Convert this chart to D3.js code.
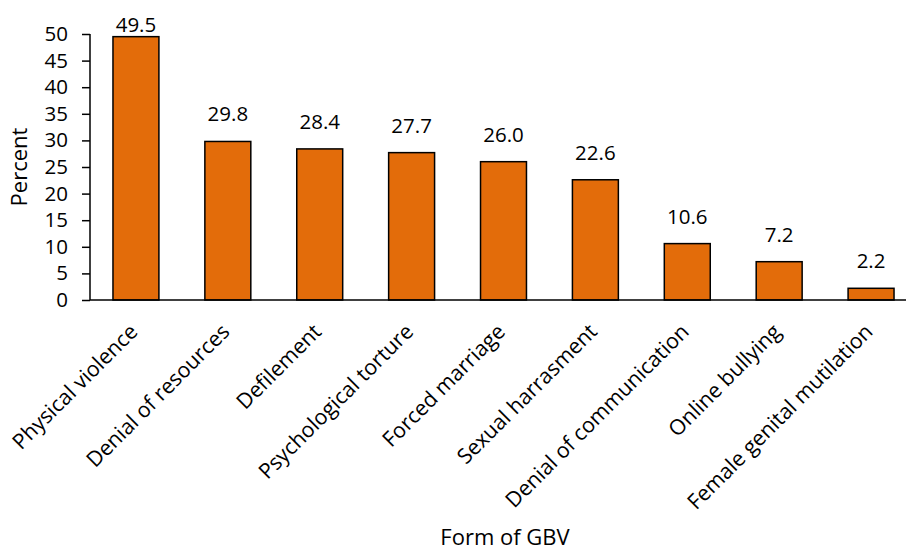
<!DOCTYPE html>
<html>
<head>
<meta charset="utf-8">
<script src="https://cdn.jsdelivr.net/npm/d3@7"></script>
<style>
  html, body { margin: 0; padding: 0; background: #fff; }
  svg { display: block; font-family: "Open Sans", "Noto Sans", sans-serif; }
</style>
</head>
<body>
<svg id="chart" width="906" height="551"></svg>
<script>
// Forms of gender-based violence reported (percent)
const categories = [
  "Physical violence", "Denial of resources", "Defilement",
  "Psychological torture", "Forced marriage", "Sexual harrasment",
  "Denial of communication", "Online bullying", "Female genital mutilation"
];
const percents = [49.5, 29.8, 28.4, 27.7, 26.0, 22.6, 10.6, 7.2, 2.2];
const yTicks = [0, 5, 10, 15, 20, 25, 30, 35, 40, 45, 50];

const svg = d3.select("#chart");
const plotLeft = 90, plotRight = 917, plotTop = 34, plotBottom = 300;

const x = d3.scaleBand().domain(categories).range([plotLeft, plotRight]).paddingInner(0.5).paddingOuter(0.25);
const y = d3.scaleLinear().domain([0, 50]).range([plotBottom, plotTop]);

// Bars
svg.append("g").selectAll("rect")
  .data(percents)
  .join("rect")
  .attr("x", (d, i) => x(categories[i]))
  .attr("y", d => y(d))
  .attr("width", x.bandwidth())
  .attr("height", d => y(0) - y(d))
  .attr("fill", "#E36C0A")
  .attr("stroke", "#000")
  .attr("stroke-width", 1.5);

// Value labels above bars, kept inside the plot area
svg.append("g").selectAll("text")
  .data(percents)
  .join("text")
  .attr("x", (d, i) => x(categories[i]) + x.bandwidth() / 2)
  .attr("y", d => Math.max(y(d) - 20, 32))
  .attr("text-anchor", "middle")
  .attr("font-size", 20.5)
  .attr("fill", "#000")
  .text(d => d.toFixed(1));

// Y axis
const yAxis = svg.append("g")
  .attr("transform", `translate(${plotLeft},0)`)
  .call(d3.axisLeft(y).tickValues(yTicks).tickSize(8).tickPadding(14));
yAxis.select(".domain").attr("stroke", "#000").attr("stroke-width", 1.5).attr("d", `M0,${plotTop}V${plotBottom}`);
yAxis.selectAll(".tick line").attr("stroke", "#000").attr("stroke-width", 1.5);
yAxis.selectAll(".tick text").attr("font-size", 20.5).attr("fill", "#000").attr("font-family", "Open Sans, sans-serif");

// X axis baseline
const xAxis = svg.append("g")
  .attr("transform", `translate(0,${plotBottom})`)
  .call(d3.axisBottom(x).tickSize(0).tickPadding(0));
xAxis.select(".domain").attr("stroke", "#000").attr("stroke-width", 1.5).attr("d", `M${plotLeft},0H${plotRight}`);
xAxis.selectAll(".tick text")
  .attr("font-size", 21.3)
  .attr("fill", "#000")
  .attr("font-family", "Open Sans, sans-serif")
  .attr("text-anchor", "end")
  .attr("dy", 0)
  .attr("transform", "translate(3,33) rotate(-45)");

// Axis titles
svg.append("text")
  .attr("transform", `translate(27,${(plotTop + plotBottom) / 2}) rotate(-90)`)
  .attr("text-anchor", "middle")
  .attr("font-size", 22)
  .attr("fill", "#000")
  .text("Percent");

svg.append("text")
  .attr("x", 505)
  .attr("y", 545)
  .attr("text-anchor", "middle")
  .attr("font-size", 22)
  .attr("fill", "#000")
  .text("Form of GBV");
</script>
</body>
</html>
